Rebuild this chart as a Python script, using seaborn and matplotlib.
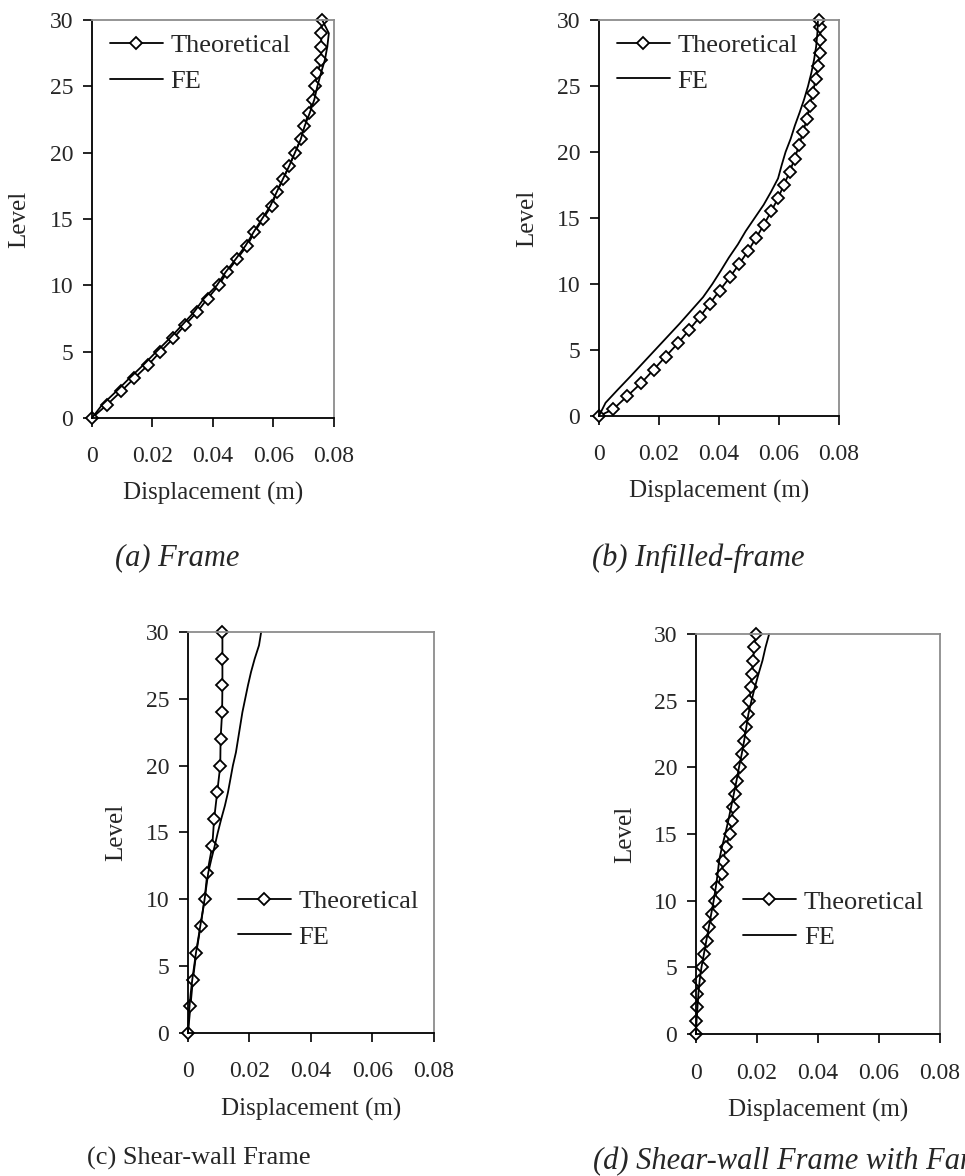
import matplotlib
matplotlib.use("Agg")
from matplotlib import pyplot as plt
import seaborn as sns
import pandas as pd

# level numbers
levels = list(range(31))
levels_half = [0, 0.5] + [i + 0.5 for i in range(1, 30)] + [30]
levels_even = list(range(0, 31, 2))

# (a) frame
frame_theo = [0, 0.0050, 0.0096, 0.0140, 0.0186, 0.0226, 0.0269, 0.0307, 0.0348, 0.0382,
              0.0419, 0.0447, 0.0480, 0.0513, 0.0537, 0.0565, 0.0594, 0.0610, 0.0631, 0.0652,
              0.0671, 0.0690, 0.0701, 0.0717, 0.0730, 0.0736, 0.0745, 0.0758, 0.0758, 0.0758,
              0.0761]
frame_fe = [0, 0.0034, 0.0080, 0.0124, 0.0170, 0.0213, 0.0257, 0.0298, 0.0338, 0.0370,
            0.0413, 0.0442, 0.0476, 0.0508, 0.0534, 0.0562, 0.0590, 0.0610, 0.0631, 0.0652,
            0.0671, 0.0690, 0.0703, 0.0720, 0.0735, 0.0745, 0.0757, 0.0770, 0.0778, 0.0783,
            0.0761]

# (b) infilled frame
infill_theo = [0, 0.0047, 0.0094, 0.0141, 0.0182, 0.0222, 0.0263, 0.0300, 0.0336, 0.0369,
               0.0402, 0.0436, 0.0467, 0.0497, 0.0524, 0.0550, 0.0574, 0.0597, 0.0616, 0.0636,
               0.0652, 0.0667, 0.0680, 0.0693, 0.0702, 0.0713, 0.0722, 0.0730, 0.0736, 0.0738,
               0.0738, 0.0733]
infill_fe = [0, 0.0022, 0.0063, 0.0105, 0.0146, 0.0187, 0.0228, 0.0269, 0.0308, 0.0347,
             0.0378, 0.0406, 0.0433, 0.0463, 0.0489, 0.0519, 0.0549, 0.0574, 0.0597, 0.0609,
             0.0622, 0.0639, 0.0653, 0.0669, 0.0684, 0.0697, 0.0708, 0.0717, 0.0724, 0.0728,
             0.0730]

# (c) shear-wall frame
shear_theo = [0, 0.0008, 0.0016, 0.0027, 0.0041, 0.0054, 0.0063, 0.0079, 0.0085, 0.0095,
              0.0105, 0.0106, 0.0111, 0.0112, 0.0112, 0.0112]
shear_fe = [0, 0.0002, 0.0005, 0.0009, 0.0014, 0.0020, 0.0026, 0.0033, 0.0040, 0.0047,
            0.0054, 0.0060, 0.0066, 0.0076, 0.0087, 0.0097, 0.0108, 0.0120, 0.0130, 0.0138,
            0.0146, 0.0156, 0.0163, 0.0170, 0.0177, 0.0186, 0.0195, 0.0205, 0.0217, 0.0231,
            0.0238]

# (d) shear-wall frame with ...
shearf_theo = [0, 0, 0.0004, 0.0005, 0.0010, 0.0019, 0.0026, 0.0037, 0.0044, 0.0054,
               0.0062, 0.0070, 0.0084, 0.0090, 0.0098, 0.0111, 0.0117, 0.0122, 0.0128, 0.0136,
               0.0144, 0.0150, 0.0157, 0.0164, 0.0172, 0.0175, 0.0180, 0.0183, 0.0188, 0.0190,
               0.0197]
shearf_fe = [0, 0.0002, 0.0005, 0.0008, 0.0012, 0.0018, 0.0026, 0.0034, 0.0042, 0.0050,
             0.0058, 0.0065, 0.0071, 0.0076, 0.0085, 0.0096, 0.0106, 0.0115, 0.0124, 0.0133,
             0.0141, 0.0150, 0.0158, 0.0165, 0.0172, 0.0182, 0.0193, 0.0205, 0.0218, 0.0228,
             0.0240]

x_ticks = [0, 0.02, 0.04, 0.06, 0.08]
x_ticklabels = ["0", "0.02", "0.04", "0.06", "0.08"]
y_ticks = [0, 5, 10, 15, 20, 25, 30]

sns.set_style("ticks")
plt.rcParams["font.family"] = ["Liberation Serif", "DejaVu Serif"]
plt.rcParams["mathtext.default"] = "regular"

fig = plt.figure(figsize=(9.65, 11.76), dpi=100)

panels = [
    # axes rect, theo levels, theo, fe, legend anchor, ylabel x
    ([0.0953, 0.6446, 0.2508, 0.3384], levels, frame_theo, frame_fe, (0.074, 0.965), -0.30),
    ([0.6207, 0.6463, 0.2487, 0.3367], levels_half, infill_theo, infill_fe, (0.075, 0.965), -0.30),
    ([0.1948, 0.1216, 0.2549, 0.3410], levels_even, shear_theo, shear_fe, (0.203, 0.357), -0.29),
    ([0.7212, 0.1207, 0.2529, 0.3402], levels, shearf_theo, shearf_fe, (0.193, 0.36), -0.29),
]

for rect, lv, theo, fe, anchor, ylab_x in panels:
    ax = fig.add_axes(rect)
    sns.lineplot(x=theo, y=lv, ax=ax, sort=False, estimator=None, color="black",
                 lw=1.3, marker="D", markersize=6.5, markerfacecolor="white",
                 markeredgecolor="black", markeredgewidth=1.3, clip_on=False,
                 label="Theoretical")
    sns.lineplot(x=fe, y=levels, ax=ax, sort=False, estimator=None, color="black",
                 lw=1.3, clip_on=False, label="FE")
    ax.set_xlim(0, 0.08)
    ax.set_ylim(0, 30)
    ax.set_xticks(x_ticks)
    ax.set_xticklabels(x_ticklabels)
    ax.set_yticks(y_ticks)
    ax.tick_params(axis="both", labelsize=17, length=6.5, width=1.2, color="black",
                   direction="out")
    ax.tick_params(axis="x", pad=14)
    ax.tick_params(axis="y", pad=7)
    for side in ["left", "bottom"]:
        ax.spines[side].set_color("black")
        ax.spines[side].set_linewidth(1.3)
    for side in ["top", "right"]:
        ax.spines[side].set_color("#8c8c8c")
        ax.spines[side].set_linewidth(1.3)
    ax.set_xlabel("Displacement (m)", fontsize=18)
    ax.set_ylabel("Level", fontsize=18)
    ax.xaxis.set_label_coords(0.5, -0.19)
    ax.xaxis.label.set_va("center")
    ax.yaxis.set_label_coords(ylab_x, 0.5)
    ax.yaxis.label.set_va("center")
    ax.legend(loc="upper left", bbox_to_anchor=anchor, frameon=False, fontsize=19,
              borderpad=0, borderaxespad=0, handlelength=2.0, handletextpad=0.3,
              labelspacing=0.45)

fig.text(115 / 965, 1 - 558 / 1176, "(a) Frame", fontsize=22, style="italic",
         ha="left", va="center")
fig.text(592 / 965, 1 - 558 / 1176, "(b) Infilled-frame", fontsize=22, style="italic",
         ha="left", va="center")
fig.text(87 / 965, 1 - 1158 / 1176, "(c) Shear-wall Frame", fontsize=19,
         ha="left", va="center")
fig.text(593 / 965, 1 - 1162 / 1176, "(d) Shear-wall Frame with Fan", fontsize=22,
         style="italic", ha="left", va="center")

fig.savefig("out.png", dpi=100)
